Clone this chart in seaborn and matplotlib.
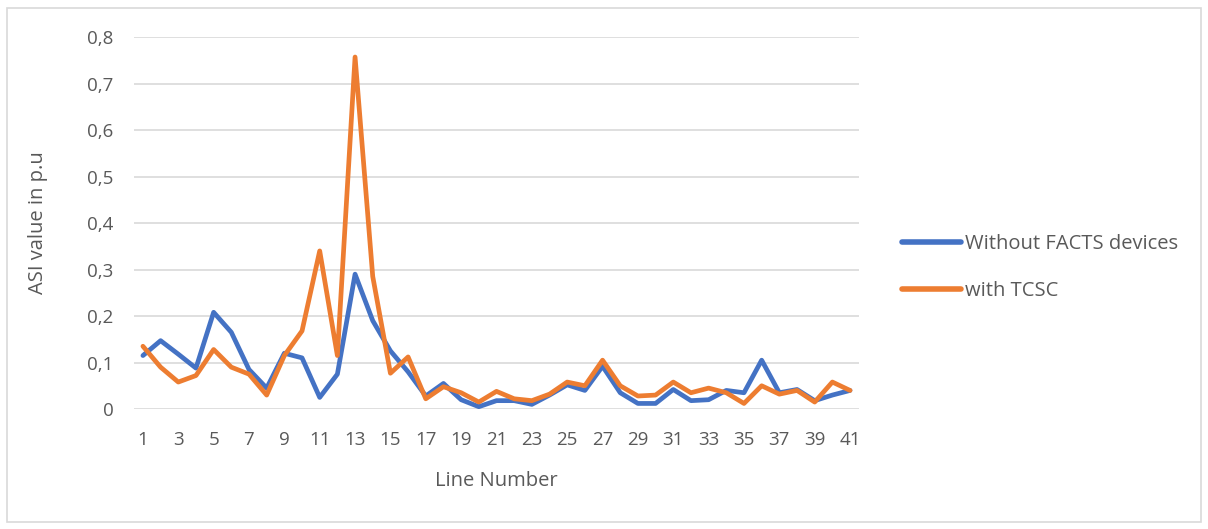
import matplotlib
matplotlib.use("Agg")
import matplotlib.pyplot as plt
import seaborn as sns
import pandas as pd
from matplotlib.patches import Rectangle

line_numbers = list(range(1, 42))
without_facts = [0.115, 0.147, 0.118, 0.088, 0.208, 0.165, 0.085, 0.045, 0.120, 0.110,
                 0.025, 0.075, 0.290, 0.190, 0.125, 0.080, 0.028, 0.055, 0.020, 0.005,
                 0.018, 0.018, 0.010, 0.030, 0.052, 0.040, 0.092, 0.035, 0.012, 0.012,
                 0.042, 0.018, 0.020, 0.040, 0.035, 0.105, 0.035, 0.042, 0.018, 0.030,
                 0.040]
with_tcsc = [0.135, 0.090, 0.058, 0.072, 0.128, 0.090, 0.075, 0.030, 0.115, 0.168,
             0.340, 0.115, 0.757, 0.285, 0.077, 0.112, 0.022, 0.048, 0.035, 0.015,
             0.038, 0.022, 0.018, 0.032, 0.058, 0.050, 0.105, 0.050, 0.028, 0.030,
             0.058, 0.035, 0.045, 0.035, 0.012, 0.050, 0.032, 0.040, 0.015, 0.058,
             0.040]
series_names = ["Without FACTS devices", "with TCSC"]
y_ticks = [0, 0.1, 0.2, 0.3, 0.4, 0.5, 0.6, 0.7, 0.8]
y_tick_labels = ["0", "0,1", "0,2", "0,3", "0,4", "0,5", "0,6", "0,7", "0,8"]
x_ticks = list(range(1, 42, 2))

df = pd.DataFrame({
    "Line Number": line_numbers * 2,
    "ASI": without_facts + with_tcsc,
    "Series": [series_names[0]] * 41 + [series_names[1]] * 41,
})

sns.set_theme(style="white")
plt.rcParams["font.family"] = ["Open Sans", "DejaVu Sans"]
text_color = "#595959"

fig = plt.figure(figsize=(12.08, 5.29), dpi=100)
ax = fig.add_axes([0.111, 0.2268, 0.600, 0.7032])

palette = {series_names[0]: "#4472C4", series_names[1]: "#ED7D31"}
sns.lineplot(data=df, x="Line Number", y="ASI", hue="Series", palette=palette,
             linewidth=3.4, ax=ax, legend=True)

ax.set_xlim(0.5, 41.5)
ax.set_ylim(0, 0.8)
ax.set_yticks(y_ticks)
ax.set_yticklabels(y_tick_labels)
ax.set_xticks(x_ticks)
ax.set_xticklabels([str(t) for t in x_ticks])
ax.yaxis.grid(True, color="#D9D9D9", linewidth=1.2)
ax.set_axisbelow(True)
for s in ax.spines.values():
    s.set_visible(False)
ax.tick_params(axis="both", length=0, labelsize=13.5, colors=text_color)
ax.tick_params(axis="x", pad=16)
ax.tick_params(axis="y", pad=15)
ax.set_xlabel("Line Number", fontsize=14.5, color=text_color, labelpad=16)
ax.set_ylabel("ASI value in p.u", fontsize=14.5, color=text_color, labelpad=28)

leg = ax.legend(loc="center left", bbox_to_anchor=(1.035, 0.38), frameon=False,
                fontsize=14.5, handlelength=2.9, labelspacing=1.35, handletextpad=0.2)
for t in leg.get_texts():
    t.set_color(text_color)
for h in leg.get_lines():
    h.set_linewidth(4)

fig.patches.append(Rectangle((0.006, 0.013), 0.988, 0.972, transform=fig.transFigure,
                             fill=False, edgecolor="#D9D9D9", linewidth=1.2))

fig.savefig("out.png", dpi=100)
